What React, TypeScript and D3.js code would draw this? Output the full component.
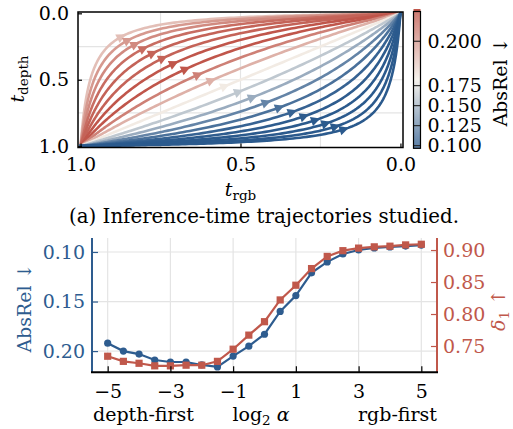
import React, { useEffect, useRef } from "react";
import * as d3 from "d3";

// log2(alpha) for each trajectory / sweep point
const logAlpha = [-5, -4.5, -4, -3.5, -3, -2.5, -2, -1.5, -1, -0.5, 0, 0.5, 1, 1.5, 2, 2.5, 3, 3.5, 4, 4.5, 5];
const absRel = [0.192, 0.2, 0.203, 0.209, 0.211, 0.211, 0.214, 0.216, 0.205, 0.195, 0.183, 0.16, 0.144, 0.121, 0.11, 0.102, 0.098, 0.096, 0.095, 0.094, 0.093];
const delta1 = [0.734, 0.726, 0.723, 0.719, 0.719, 0.72, 0.72, 0.726, 0.745, 0.767, 0.788, 0.822, 0.845, 0.871, 0.89, 0.899, 0.903, 0.905, 0.906, 0.908, 0.909];

const trajTicks = [0, 0.5, 1];
const trajGrid = [0.25, 0.5, 0.75];
const cbarTicks = [0.1, 0.125, 0.15, 0.175, 0.2];
const cbarDomain = [0.0967, 0.1822, 0.2137];
const sweepTicks = [-5, -3, -1, 1, 3, 5];
const absRelTicks = [0.1, 0.15, 0.2];
const deltaTicks = [0.75, 0.8, 0.85, 0.9];

const W = 513;
const H = 429;
const FONT = "DejaVu Serif";
const FS = 19;
const BLUE = "#2e5c8f";
const RED = "#c0584b";
const GRID = "#e4e4e4";

const topBox = { x0: 78, x1: 403, y0: 12, y1: 147.5 };
const cb = { x0: 413.5, x1: 420.5, y0: 11.5, y1: 148.3 };
const bot = { x0: 92, x1: 437, y0: 238, y1: 372.3 };

const sig = (z: number) => 1 / (1 + Math.exp(-z));
const markerU = 0.2;

export default function App() {
  const svgRef = useRef<SVGSVGElement>(null);

  useEffect(() => {
    const svg = d3.select(svgRef.current);
    svg.selectAll("*").remove();

    // ---------- top: trajectories ----------
    const xT = d3.scaleLinear().domain([1.008, -0.008]).range([topBox.x0, topBox.x1]);
    const yT = d3.scaleLinear().domain([-0.01, 1.01]).range([topBox.y0, topBox.y1]);

    const cmap = d3
      .scaleLinear<string>()
      .domain([0, 0.5, 1])
      .range(["#2b5a8d", "#f3efe8", "#c0564b"])
      .interpolate(d3.interpolateRgb);
    const norm = d3.scaleLinear().domain(cbarDomain).range([0, 0.5, 1]).clamp(true);
    const color = (v: number) => cmap(norm(v));

    const gTop = svg.append("g");
    gTop
      .selectAll("line.gx")
      .data(trajGrid)
      .join("line")
      .attr("x1", (d) => xT(d))
      .attr("x2", (d) => xT(d))
      .attr("y1", topBox.y0)
      .attr("y2", topBox.y1)
      .attr("stroke", GRID)
      .attr("stroke-width", 1.2);
    gTop
      .selectAll("line.gy")
      .data(trajGrid)
      .join("line")
      .attr("x1", topBox.x0)
      .attr("x2", topBox.x1)
      .attr("y1", (d) => yT(d))
      .attr("y2", (d) => yT(d))
      .attr("stroke", GRID)
      .attr("stroke-width", 1.2);

    svg
      .append("clipPath")
      .attr("id", "clipTop")
      .append("rect")
      .attr("x", topBox.x0)
      .attr("y", topBox.y0)
      .attr("width", topBox.x1 - topBox.x0)
      .attr("height", topBox.y1 - topBox.y0);

    // trajectory: logit(t_depth) - logit(t_rgb) = log(alpha)
    const uSamples = d3.range(-16, 16.001, 0.05);
    const traj = (k: number, u: number): [number, number] => [
      sig(u - (k * Math.LN2) / 2),
      sig(u + (k * Math.LN2) / 2),
    ];
    const line = d3
      .line<[number, number]>()
      .x((d) => xT(d[0]))
      .y((d) => yT(d[1]));

    const curves = gTop.append("g").attr("clip-path", "url(#clipTop)");
    logAlpha.forEach((k, i) => {
      const c = color(absRel[i]);
      curves
        .append("path")
        .attr("d", line(uSamples.map((u) => traj(k, u))))
        .attr("fill", "none")
        .attr("stroke", c)
        .attr("stroke-width", 2.6)
        .attr("stroke-linecap", "round");
      const p1 = traj(k, markerU);
      const p2 = traj(k, markerU - 0.05);
      const ang =
        (Math.atan2(yT(p2[1]) - yT(p1[1]), xT(p2[0]) - xT(p1[0])) * 180) / Math.PI;
      curves
        .append("path")
        .attr("d", "M5.5,0 L-4,-4.8 L-4,4.8 Z")
        .attr("fill", c)
        .attr("transform", `translate(${xT(p1[0])},${yT(p1[1])}) rotate(${ang})`);
    });

    gTop
      .append("rect")
      .attr("x", topBox.x0)
      .attr("y", topBox.y0)
      .attr("width", topBox.x1 - topBox.x0)
      .attr("height", topBox.y1 - topBox.y0)
      .attr("fill", "none")
      .attr("stroke", "#000")
      .attr("stroke-width", 1.5);

    const styleAxis = (g: any, col: string) => {
      g.select(".domain").remove();
      g.selectAll("line").attr("stroke", col).attr("stroke-width", 1.2);
      g.selectAll("text").attr("fill", col).attr("font-size", FS).attr("font-family", FONT);
      g.attr("font-family", FONT);
    };

    svg
      .append("g")
      .attr("transform", `translate(0,${topBox.y1})`)
      .call(d3.axisBottom(xT).tickValues(trajTicks).tickFormat(d3.format(".1f")).tickSize(-4).tickPadding(10))
      .call((g) => styleAxis(g, "#000"));
    svg
      .append("g")
      .attr("transform", `translate(${topBox.x0},0)`)
      .call(d3.axisLeft(yT).tickValues(trajTicks).tickFormat(d3.format(".1f")).tickSize(-4).tickPadding(9))
      .call((g) => styleAxis(g, "#000"));

    // axis labels (top)
    const tDepth = svg
      .append("text")
      .attr("transform", "translate(24,79) rotate(-90)")
      .attr("text-anchor", "middle")
      .attr("font-family", FONT)
      .attr("font-size", FS);
    tDepth.append("tspan").attr("font-style", "italic").text("t");
    tDepth.append("tspan").attr("font-size", 13.5).attr("dy", 4).text("depth");

    const tRgb = svg
      .append("text")
      .attr("x", (topBox.x0 + topBox.x1) / 2)
      .attr("y", 196)
      .attr("text-anchor", "middle")
      .attr("font-family", FONT)
      .attr("font-size", FS);
    tRgb.append("tspan").attr("font-style", "italic").text("t");
    tRgb.append("tspan").attr("font-size", 13.5).attr("dy", 4).text("rgb");

    // ---------- colorbar ----------
    const cbY = d3.scaleLinear().domain(cbarDomain).range([cb.y1, (cb.y0 + cb.y1) / 2, cb.y0]);
    const cbRows = d3.range(cb.y0, cb.y1, 1);
    svg
      .append("rect")
      .attr("x", cb.x0)
      .attr("y", 9)
      .attr("width", cb.x1 - cb.x0)
      .attr("height", cb.y0 - 9)
      .attr("fill", color(cbarDomain[2]));
    svg
      .append("g")
      .selectAll("rect")
      .data(cbRows)
      .join("rect")
      .attr("x", cb.x0)
      .attr("y", (d) => d)
      .attr("width", cb.x1 - cb.x0)
      .attr("height", (d) => Math.min(1.05, cb.y1 - d))
      .attr("fill", (d) => color(cbY.invert(d + 0.5)));
    svg
      .append("g")
      .selectAll("line")
      .data(cbarTicks)
      .join("line")
      .attr("x1", cb.x0)
      .attr("x2", cb.x1)
      .attr("y1", (d) => cbY(d))
      .attr("y2", (d) => cbY(d))
      .attr("stroke", "#222")
      .attr("stroke-width", 1.1);
    svg
      .append("rect")
      .attr("x", cb.x0)
      .attr("y", cb.y0)
      .attr("width", cb.x1 - cb.x0)
      .attr("height", cb.y1 - cb.y0)
      .attr("fill", "none")
      .attr("stroke", "#000")
      .attr("stroke-width", 1.2);
    svg
      .append("g")
      .attr("transform", `translate(${cb.x1},0)`)
      .call(d3.axisRight(cbY).tickValues(cbarTicks).tickFormat(d3.format(".3f")).tickSize(0).tickPadding(7))
      .call((g) => styleAxis(g, "#000"));
    svg
      .append("text")
      .attr("transform", "translate(507,82) rotate(-90)")
      .attr("text-anchor", "middle")
      .attr("font-family", FONT)
      .attr("font-size", FS)
      .text("AbsRel ↓");

    // caption
    svg
      .append("text")
      .attr("x", 264)
      .attr("y", 223)
      .attr("text-anchor", "middle")
      .attr("font-family", FONT)
      .attr("font-size", 19.8)
      .text("(a) Inference-time trajectories studied.");

    // ---------- bottom: sweep ----------
    const xB = d3.scaleLinear().domain([-5.5, 5.5]).range([bot.x0, bot.x1]);
    const yL = d3.scaleLinear().domain([0.0859, 0.2214]).range([bot.y0, bot.y1]);
    const yR = d3.scaleLinear().domain([0.9188, 0.7089]).range([bot.y0, bot.y1]);

    const gB = svg.append("g");
    gB.selectAll("line.vx")
      .data(sweepTicks)
      .join("line")
      .attr("x1", (d) => xB(d))
      .attr("x2", (d) => xB(d))
      .attr("y1", bot.y0)
      .attr("y2", bot.y1)
      .attr("stroke", GRID)
      .attr("stroke-width", 1.2);
    gB.selectAll("line.hy")
      .data(absRelTicks)
      .join("line")
      .attr("x1", bot.x0)
      .attr("x2", bot.x1)
      .attr("y1", (d) => yL(d))
      .attr("y2", (d) => yL(d))
      .attr("stroke", GRID)
      .attr("stroke-width", 1.2);

    const idx = d3.range(logAlpha.length);
    const blueLine = d3
      .line<number>()
      .x((i) => xB(logAlpha[i]))
      .y((i) => yL(absRel[i]));
    const redLine = d3
      .line<number>()
      .x((i) => xB(logAlpha[i]))
      .y((i) => yR(delta1[i]));

    gB.append("path")
      .attr("d", blueLine(idx))
      .attr("fill", "none")
      .attr("stroke", BLUE)
      .attr("stroke-width", 2.2);
    gB.append("g")
      .selectAll("circle")
      .data(idx)
      .join("circle")
      .attr("cx", (i) => xB(logAlpha[i]))
      .attr("cy", (i) => yL(absRel[i]))
      .attr("r", 3.6)
      .attr("fill", BLUE);

    gB.append("path")
      .attr("d", redLine(idx))
      .attr("fill", "none")
      .attr("stroke", RED)
      .attr("stroke-width", 2.2);
    gB.append("g")
      .selectAll("rect")
      .data(idx)
      .join("rect")
      .attr("x", (i) => xB(logAlpha[i]) - 3.6)
      .attr("y", (i) => yR(delta1[i]) - 3.6)
      .attr("width", 7.2)
      .attr("height", 7.2)
      .attr("fill", RED);

    // spines
    gB.append("line")
      .attr("x1", bot.x0)
      .attr("x2", bot.x0)
      .attr("y1", bot.y0)
      .attr("y2", bot.y1)
      .attr("stroke", BLUE)
      .attr("stroke-width", 2);
    gB.append("line")
      .attr("x1", bot.x1)
      .attr("x2", bot.x1)
      .attr("y1", bot.y0)
      .attr("y2", bot.y1)
      .attr("stroke", RED)
      .attr("stroke-width", 2);
    gB.append("line")
      .attr("x1", bot.x0 - 1)
      .attr("x2", bot.x1 + 1)
      .attr("y1", bot.y1)
      .attr("y2", bot.y1)
      .attr("stroke", "#000")
      .attr("stroke-width", 2);

    svg
      .append("g")
      .attr("transform", `translate(0,${bot.y1})`)
      .call(d3.axisBottom(xB).tickValues(sweepTicks).tickFormat(d3.format("d")).tickSize(-6).tickPadding(12.5))
      .call((g) => styleAxis(g, "#000"));
    svg
      .append("g")
      .attr("transform", `translate(${bot.x0},0)`)
      .call(d3.axisLeft(yL).tickValues(absRelTicks).tickFormat(d3.format(".2f")).tickSize(-6).tickPadding(7))
      .call((g) => styleAxis(g, BLUE));
    svg
      .append("g")
      .attr("transform", `translate(${bot.x1},0)`)
      .call(d3.axisRight(yR).tickValues(deltaTicks).tickFormat(d3.format(".2f")).tickSize(-6).tickPadding(6))
      .call((g) => styleAxis(g, RED));

    // bottom labels
    const lab = (x: number, anchor: string) =>
      svg
        .append("text")
        .attr("x", x)
        .attr("y", 421)
        .attr("text-anchor", anchor)
        .attr("font-family", FONT)
        .attr("font-size", FS);
    lab(bot.x0 + 1, "start").text("depth-first");
    const lg = lab(261, "middle");
    lg.append("tspan").text("log");
    lg.append("tspan").attr("font-size", 13.5).attr("dy", 4).text("2");
    lg.append("tspan").attr("dy", -4).attr("font-style", "italic").text(" α");
    lab(bot.x1, "end").text("rgb-first");

    svg
      .append("text")
      .attr("transform", "translate(31,308) rotate(-90)")
      .attr("text-anchor", "middle")
      .attr("font-family", FONT)
      .attr("font-size", FS)
      .attr("fill", BLUE)
      .text("AbsRel ↓");
    const dl = svg
      .append("text")
      .attr("transform", "translate(505,310) rotate(-90)")
      .attr("text-anchor", "middle")
      .attr("font-family", FONT)
      .attr("font-size", FS)
      .attr("fill", RED);
    dl.append("tspan").attr("font-style", "italic").text("δ");
    dl.append("tspan").attr("font-size", 13.5).attr("dy", 4).text("1");
    dl.append("tspan").attr("dy", -4).text(" ↑");
  }, []);

  return (
    <svg
      ref={svgRef}
      width={W}
      height={H}
      style={{ position: "absolute", left: 0, top: 0, background: "#fff" }}
    />
  );
}
